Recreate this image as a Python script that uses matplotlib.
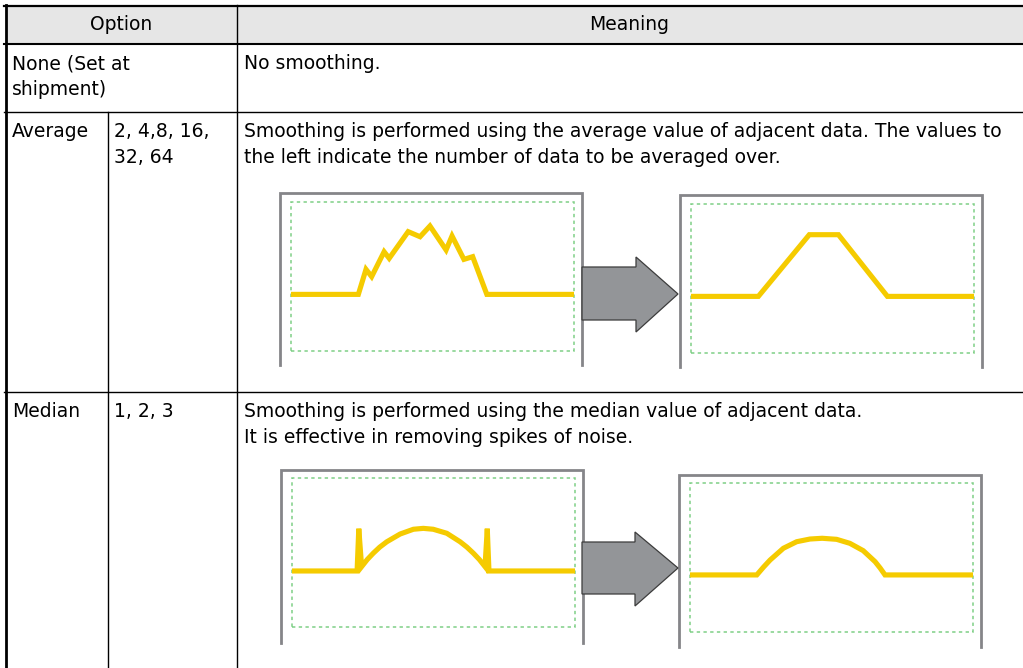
import matplotlib
matplotlib.use("Agg")
import matplotlib.pyplot as plt
from matplotlib.patches import Rectangle, Polygon

plt.rcParams['font.family'] = ['DejaVu Sans']

# ---------------- data ----------------
header_labels = ["Option", "Meaning"]
row_options = ["None (Set at\nshipment)", "Average", "Median"]
row_params = ["", "2, 4,8, 16,\n32, 64", "1, 2, 3"]
row_meanings = [
    "No smoothing.",
    "Smoothing is performed using the average value of adjacent data. The values to\nthe left indicate the number of data to be averaged over.",
    "Smoothing is performed using the median value of adjacent data.\nIt is effective in removing spikes of noise.",
]

# signal shapes in each diagram (x: 0..100 across the dotted box, y: 0..100 bottom->top)
avg_raw_x = [0, 23.8, 26.5, 28.5, 32.9, 34.7, 41.4, 45.6, 49.1, 54.8, 56.9, 61.1, 64.2, 69.2, 100]
avg_raw_y = [38, 38, 54.8, 49.9, 66.6, 62.2, 80.1, 76.7, 83.9, 67.8, 77.2, 61.5, 63.3, 38, 38]
avg_smooth_x = [0, 23.8, 41.8, 52.1, 69.4, 100]
avg_smooth_y = [38, 38, 79.4, 79.4, 38, 38]
med_raw_x = [0, 23.0, 23.6, 24.6, 26.6, 28.7, 31.0, 33.5, 38.2, 42.9, 46.4, 49.9, 54.7, 59.4, 61.8, 64.1, 66.2, 68.2, 69.0, 69.6, 100]
med_raw_y = [37.6, 37.6, 66, 40.5, 45.3, 49.5, 53.6, 57.2, 62.4, 65.6, 66.2, 65.6, 62.9, 57.2, 53.6, 49.5, 45.3, 40.5, 66, 37.6, 37.6]
med_smooth_x = [0, 23.6, 26.0, 28.3, 33.0, 37.7, 42.4, 46.7, 51.8, 56.5, 61.2, 65.4, 67.2, 68.9, 100]
med_smooth_y = [38.3, 38.3, 43.6, 48.3, 56.2, 60.6, 62.4, 62.9, 62.2, 59.5, 54.6, 47.2, 42.9, 38.3, 38.3]

# ---------------- layout (pixels) ----------------
W, H = 1023, 668
FS = 13.5
YELLOW = "#F5CB00"
FRAME = "#858589"
GREEN = "#7fcf86"
ARROW_FILL = "#939598"
ARROW_EDGE = "#3c3c3c"

fig = plt.figure(figsize=(W / 100, H / 100), dpi=100)
ax = fig.add_axes([0, 0, 1, 1])
ax.set_xlim(0, W)
ax.set_ylim(H, 0)
ax.axis("off")

# header background
ax.add_patch(Rectangle((5, 6), W - 5, 38, facecolor="#e6e6e6", edgecolor="none", zorder=0))

# table lines
k = "black"
ax.plot([4, W], [5.5, 5.5], color=k, lw=1.6)
ax.plot([4, W], [44, 44], color=k, lw=1.5)
ax.plot([4, W], [111.5, 111.5], color=k, lw=1.0)
ax.plot([4, W], [391.5, 391.5], color=k, lw=1.0)
ax.plot([5.5, 5.5], [5, H], color=k, lw=2.0)
ax.plot([107.5, 107.5], [111.5, H], color=k, lw=1.0)
ax.plot([236.5, 236.5], [5, H], color=k, lw=1.0)

# header text
ax.text(121, 30.5, header_labels[0], fontsize=FS, ha="center", va="baseline")
ax.text(629.5, 30.5, header_labels[1], fontsize=FS, ha="center", va="baseline")

LS = 26.3
base = [69, 137, 417]
for i in range(3):
    for j, line in enumerate(row_options[i].split("\n")):
        ax.text(12, base[i] + j * LS, line, fontsize=FS, va="baseline")
    for j, line in enumerate(row_params[i].split("\n")):
        if line:
            ax.text(114, base[i] + j * LS, line, fontsize=FS, va="baseline")
    for j, line in enumerate(row_meanings[i].split("\n")):
        ax.text(244, base[i] + j * LS, line, fontsize=FS, va="baseline")


def panel(frame, box, xs, ys):
    fx0, fy0, fx1, fy1 = frame
    ax.plot([fx0, fx0, fx1, fx1], [fy1, fy0, fy0, fy1], color=FRAME, lw=2.0,
            solid_joinstyle="miter", zorder=2)
    gx0, gy0, gx1, gy1 = box
    pax = fig.add_axes([gx0 / W, 1 - gy1 / H, (gx1 - gx0) / W, (gy1 - gy0) / H])
    pax.set_xlim(0, 100)
    pax.set_ylim(0, 100)
    pax.axis("off")
    pax.add_patch(Rectangle((0, 0), 100, 100, fill=False, edgecolor=GREEN, lw=1.1,
                            linestyle=(0, (2.2, 2.2)), clip_on=False))
    pax.plot(xs, ys, color=YELLOW, lw=3.7, solid_capstyle="butt",
             solid_joinstyle="miter", clip_on=False)


def arrow(x0, x1, x2, by0, by1, hy0, hy1, tip):
    pts = [(x0, by0), (x1, by0), (x1, hy0), (x2, tip), (x1, hy1), (x1, by1), (x0, by1)]
    ax.add_patch(Polygon(pts, closed=True, facecolor=ARROW_FILL, edgecolor=ARROW_EDGE,
                         lw=0.9, zorder=3))


panel((280, 193, 582, 365), (291, 202, 574, 351), avg_raw_x, avg_raw_y)
panel((680, 195, 982, 367), (691, 204, 974, 353), avg_smooth_x, avg_smooth_y)
panel((281, 470, 583, 643), (292, 478, 575, 627), med_raw_x, med_raw_y)
panel((679, 475, 981, 647), (690, 483, 973, 632), med_smooth_x, med_smooth_y)

arrow(582, 636, 678, 267, 320, 257, 332, 294)
arrow(582, 635, 678, 542, 594, 532, 606, 568)

fig.savefig("out.png", dpi=100)
